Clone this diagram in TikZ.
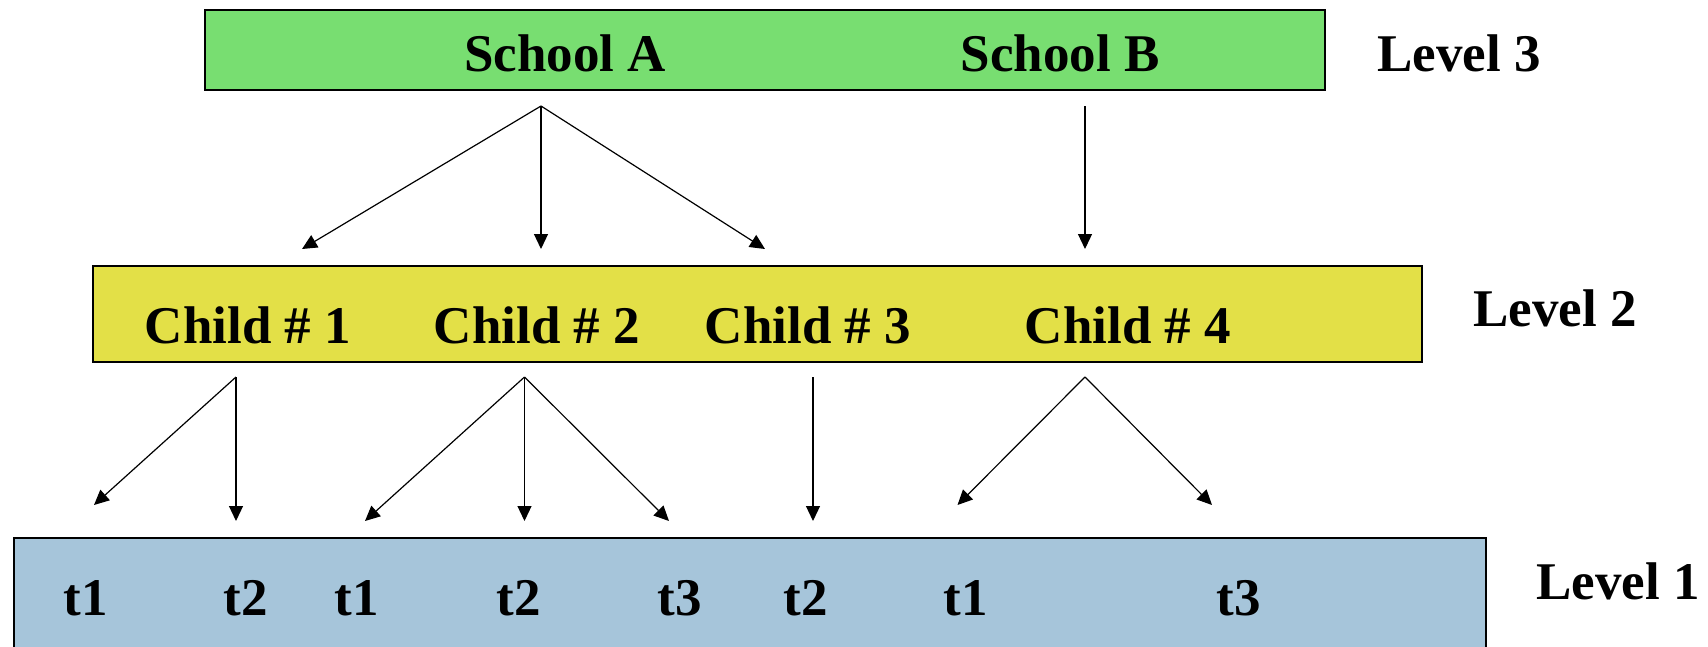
\documentclass[tikz,border=0pt]{standalone}
\usepackage{fontspec}
\setmainfont{Liberation Serif}
\usetikzlibrary{arrows.meta}
\definecolor{schoolgreen}{HTML}{78DE71}
\definecolor{childyellow}{HTML}{E3E047}
\definecolor{timeblue}{HTML}{A6C5DA}
\tikzset{
  levelbox/.style={draw=black, line width=2pt, inner sep=0pt},
  lbl/.style={font=\fontsize{53}{60}\selectfont\bfseries, inner sep=0pt, anchor=base},
  sidelbl/.style={lbl, anchor=base west},
  link/.style={line width=1.2pt, -{Triangle[length=15pt,width=14pt]}}
}
\begin{document}
\begin{tikzpicture}[x=1pt,y=-1pt]
  \useasboundingbox (0,0) rectangle (1708,646);
  \clip (0,0) rectangle (1708,646);

  % level boxes
  \node[levelbox, fill=schoolgreen, minimum width=1120pt, minimum height=80pt] (schools) at (765,50) {};
  \node[levelbox, fill=childyellow, minimum width=1329pt, minimum height=96pt] (children) at (757,314) {};
  \node[levelbox, fill=timeblue, minimum width=1472pt, minimum height=160pt, anchor=north west] (times) at (12.7,537) {};

  % level 3
  \node[lbl] (schA) at (565,71) {School A};
  \node[lbl] (schB) at (1060,71) {School B};
  \node[sidelbl] (lev3) at (1377,71) {Level 3};

  % level 2
  \node[lbl] (ch1) at (248,343) {Child \# 1};
  \node[lbl] (ch2) at (537,343) {Child \# 2};
  \node[lbl] (ch3) at (808,343) {Child \# 3};
  \node[lbl] (ch4) at (1128,343) {Child \# 4};
  \node[sidelbl] (lev2) at (1473,326) {Level 2};

  % level 1
  \node[lbl] (ta) at (86,615) {t1};
  \node[lbl] (tb) at (246,615) {t2};
  \node[lbl] (tc) at (357,615) {t1};
  \node[lbl] (td) at (519,615) {t2};
  \node[lbl] (te) at (680,615) {t3};
  \node[lbl] (tf) at (806,615) {t2};
  \node[lbl] (tg) at (966,615) {t1};
  \node[lbl] (th) at (1239,615) {t3};
  \node[sidelbl] (lev1) at (1536,599) {Level 1};

  % connector ends
  \coordinate (a0) at (541,106);
  \coordinate (a1) at (302,249);
  \coordinate (a2) at (541,249);
  \coordinate (a3) at (765,249);
  \coordinate (b0) at (1085,106);
  \coordinate (b1) at (1085,249);

  \coordinate (c10) at (236,377);
  \coordinate (c11) at (94,505);
  \coordinate (c12) at (236,521);
  \coordinate (c20) at (524.5,377);
  \coordinate (c21) at (365,521);
  \coordinate (c22) at (524.5,521);
  \coordinate (c23) at (669,521);
  \coordinate (c30) at (813,377);
  \coordinate (c31) at (813,521);
  \coordinate (c40) at (1085,377);
  \coordinate (c41) at (957.5,505);
  \coordinate (c42) at (1212,505);

  % connectors
  \draw[link] (a0) -- (a1);
  \draw[link] (a0) -- (a2);
  \draw[link] (a0) -- (a3);
  \draw[link] (b0) -- (b1);

  \draw[link] (c10) -- (c11);
  \draw[link] (c10) -- (c12);
  \draw[link] (c20) -- (c21);
  \draw[link] (c20) -- (c22);
  \draw[link] (c20) -- (c23);
  \draw[link] (c30) -- (c31);
  \draw[link] (c40) -- (c41);
  \draw[link] (c40) -- (c42);
\end{tikzpicture}
\end{document}
